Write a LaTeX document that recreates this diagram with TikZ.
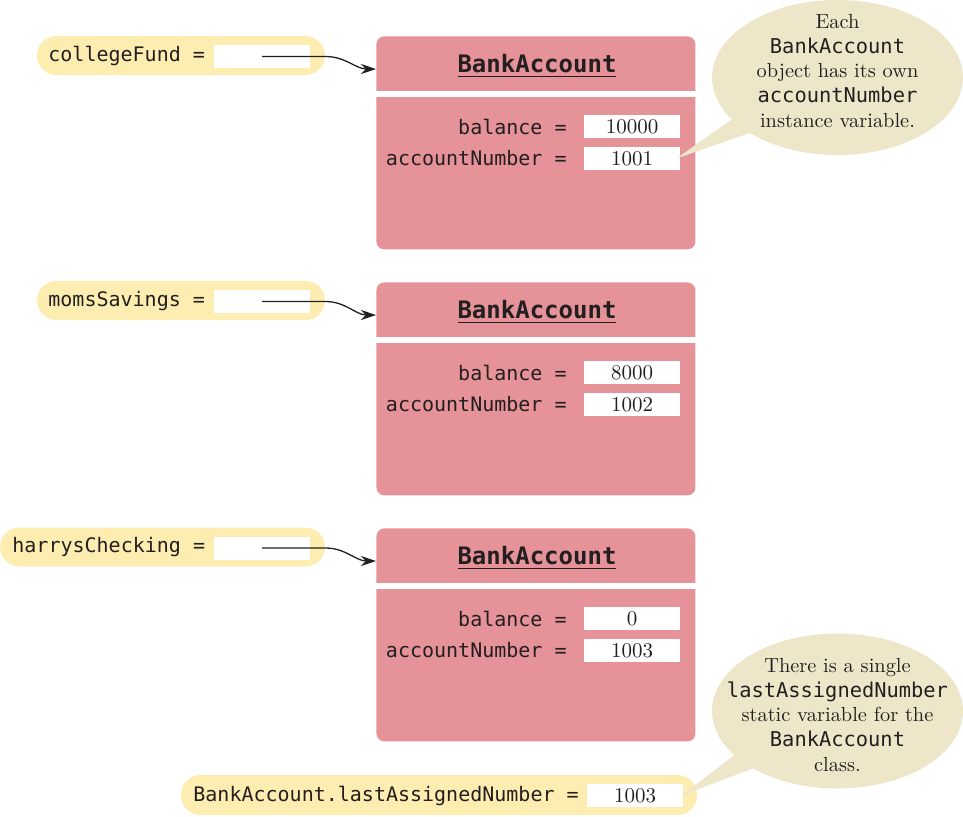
\documentclass[tikz,border=0pt]{standalone}
\usepackage{fontspec}
\setmonofont{DejaVu Sans Mono}
\usetikzlibrary{arrows.meta,shapes.callouts}

\begin{document}
\begin{tikzpicture}[x=0.5pt,y=-0.5pt,font=\small]

\definecolor{acctpink}{HTML}{E59298}
\definecolor{varyellow}{HTML}{FDEDB0}
\definecolor{notebeige}{HTML}{EEE6C9}
\definecolor{inkdark}{HTML}{231F20}

\tikzset{
  varpill/.style={
    rectangle, rounded corners=9.75pt, fill=varyellow,
    minimum width=#1, minimum height=19.5pt, inner sep=0pt
  },
  vartext/.style={font=\ttfamily\fontsize{10}{12}\selectfont, text=inkdark, inner sep=0pt},
  slotbox/.style={
    rectangle, fill=white, minimum width=48pt, minimum height=11.5pt,
    inner sep=0pt, font=\fontsize{10.5}{12}\selectfont, text=inkdark
  },
  acctbox/.style={
    rectangle, rounded corners=4pt, fill=acctpink,
    minimum width=159.5pt, minimum height=106.5pt, inner sep=0pt
  },
  sepline/.style={draw=white, line width=3pt},
  headtext/.style={font=\ttfamily\bfseries\fontsize{12}{14}\selectfont, text=inkdark, inner sep=0pt},
  refarrow/.style={
    draw=inkdark, line width=0.65pt, -{Stealth[length=7.5pt,width=5pt]}
  },
  notecloud/.style={
    ellipse callout, fill=notebeige, minimum width=125.5pt, minimum height=77.5pt,
    inner sep=0pt, callout pointer arc=13
  },
  notetext/.style={
    align=center, text=inkdark, inner sep=0pt,
    font=\fontsize{10.2}{12.35}\selectfont
  }
}

\useasboundingbox (0,0) rectangle (963,816);

% Three BankAccount objects, one below the other.
\foreach \n/\top/\bal/\num in {1/36/10000/1001, 2/282/8000/1002, 3/528/0/1003} {
  \node[acctbox, anchor=north west] (acc\n) at (376,\top) {};
  \draw[sepline] ([yshift=-29pt]acc\n.north west) -- ([yshift=-29pt]acc\n.north east);
  \node[headtext] (head\n) at (537,\top+30) {\underline{BankAccount}};
  \node[vartext, anchor=east] (fbal\n) at (567,\top+91) {balance =};
  \node[vartext, anchor=east] (fnum\n) at (567,\top+122) {accountNumber =};
  \node[slotbox] (vbal\n) at (632,\top+90.5) {\bal};
  \node[slotbox] (vnum\n) at (632,\top+122.5) {\num};
  \coordinate (in\n) at ([yshift=-16.5pt]acc\n.north west);
}

% Object variables that refer to the accounts.
\node[varpill=144pt]   (pill1) at (181,55.5) {};
\node[vartext, anchor=west] (lab1) at (48,56) {collegeFund =};
\node[slotbox]         (ref1)  at (262,56.5) {};

\node[varpill=144pt]   (pill2) at (181,300.5) {};
\node[vartext, anchor=west] (lab2) at (48,301) {momsSavings =};
\node[slotbox]         (ref2)  at (262,301.5) {};

\node[varpill=162.5pt] (pill3) at (162.5,547) {};
\node[vartext, anchor=west] (lab3) at (12,547.5) {harrysChecking =};
\node[slotbox]         (ref3)  at (262,548) {};

\foreach \n in {1,2,3}
  \draw[refarrow] (ref\n.center) -- (ref\n.center -| pill\n.east)
    to[out=0,in=180] (in\n);

% The static variable of the class.
\node[varpill=258pt, minimum height=20pt] (pill4) at (439,795) {};
\node[vartext, anchor=west] (lab4) at (193,795.5) {BankAccount.lastAssignedNumber =};
\node[slotbox] (vlast) at (635,795.5) {1003};

% Callouts.
\node[notecloud, callout absolute pointer={([xshift=-2pt]vnum1.east)}] (note1)
  at (837.5,77.5) {};
\node[notetext] (notetext1) at (837.5,71)
  {Each\\\texttt{BankAccount}\\object has its own\\\texttt{accountNumber}\\instance variable.};
\node[notecloud, callout absolute pointer={([xshift=-1pt]vlast.east)}] (note2)
  at (837.5,711) {};
\node[notetext] (notetext2) at (837.5,715)
  {There is a single\\\texttt{lastAssignedNumber}\\static variable for the\\\texttt{BankAccount}\\class.};

\end{tikzpicture}
\end{document}
